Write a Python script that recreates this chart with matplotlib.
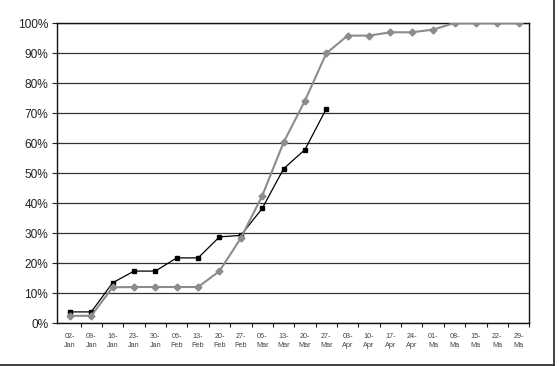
import matplotlib
matplotlib.use("Agg")
import matplotlib.pyplot as plt
from matplotlib.lines import Line2D

categories = ["02-\nJan", "09-\nJan", "16-\nJan", "23-\nJan", "30-\nJan",
              "06-\nFeb", "13-\nFeb", "20-\nFeb", "27-\nFeb",
              "06-\nMar", "13-\nMar", "20-\nMar", "27-\nMar",
              "03-\nApr", "10-\nApr", "17-\nApr", "24-\nApr",
              "01-\nMa", "08-\nMa", "15-\nMa", "22-\nMa", "29-\nMa"]
gray_series = [2.4, 2.4, 11.9, 12.0, 12.0, 12.0, 12.0, 17.3, 28.3, 42.4, 60.2, 74.1, 89.9,
               95.8, 95.8, 96.9, 96.9, 97.8, 100, 100, 100, 100]
black_series = [3.7, 3.7, 13.4, 17.3, 17.3, 21.7, 21.7, 28.7, 29.2, 38.2, 51.4, 57.8, 71.4]
y_ticks = [0, 10, 20, 30, 40, 50, 60, 70, 80, 90, 100]

plt.rcParams['font.family'] = ['Liberation Sans', 'DejaVu Sans']
fig = plt.figure(figsize=(5.59, 3.66), dpi=100)
ax = fig.add_axes([57.3/559, 1-323/366, (529.3-57.3)/559, 300/366])

x_all = list(range(len(categories)))
ax.plot(x_all[:len(black_series)], black_series, color='black', lw=0.9,
        marker='s', markersize=3.5, zorder=3)
ax.plot(x_all, gray_series, color='#8c8c8c', lw=1.5,
        marker='D', markersize=3.5, zorder=4)

ax.set_xlim(-0.59, 21.47)
ax.set_ylim(0, 100)
ax.set_yticks(y_ticks)
ax.set_yticklabels([f"{v}%" for v in y_ticks], fontsize=8.6, color='#222222')
ax.yaxis.grid(True, color='#333333', lw=0.9)
ax.set_axisbelow(True)
ax.tick_params(axis='y', length=3.6, width=0.8, pad=3, color='#222222')

ax.set_xticks(x_all)
ax.set_xticklabels(categories, fontsize=5.2, color='#444444', linespacing=1.45)
ax.set_xticks([i + 0.5 for i in range(len(categories))], minor=True)
ax.tick_params(axis='x', which='major', length=0, pad=7)
ax.tick_params(axis='x', which='minor', length=3, width=0.8, color='#222222')

for s in ax.spines.values():
    s.set_color('#111111')
    s.set_linewidth(1.0)

# outer frame (right and bottom visible)
fig.add_artist(Line2D([554/559, 554/559], [1-364.5/366, 1.0], transform=fig.transFigure,
                      color='#333333', lw=1.3))
fig.add_artist(Line2D([0, 554/559], [1-364.5/366, 1-364.5/366], transform=fig.transFigure,
                      color='#333333', lw=1.3))

fig.savefig("out.png", dpi=100)
